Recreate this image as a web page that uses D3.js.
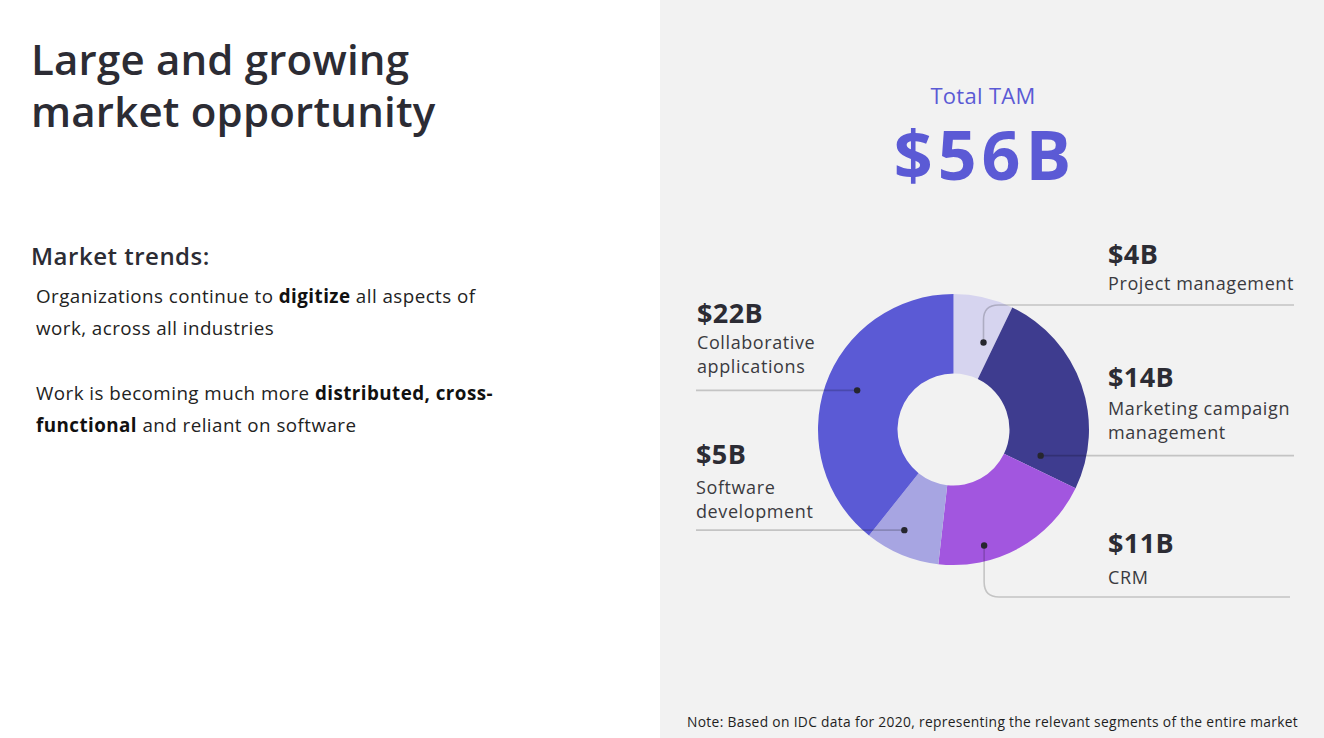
<!DOCTYPE html>
<html>
<head>
<meta charset="utf-8">
<script src="https://cdn.jsdelivr.net/npm/d3@7"></script>
<style>
  html, body { margin: 0; padding: 0; background: #ffffff; }
  svg { display: block; }
  text { font-family: "Open Sans", "Lato", sans-serif; }
</style>
</head>
<body>
<svg id="chart" width="1324" height="738"></svg>
<script>
// ---------------- data ----------------
const categories = ["Project management", "Marketing campaign management", "CRM", "Software development", "Collaborative applications"];
const values = [4, 14, 11, 5, 22];            // $B
const valueLabels = ["$4B", "$14B", "$11B", "$5B", "$22B"];
const nameLines = [["Project management"], ["Marketing campaign", "management"], ["CRM"], ["Software", "development"], ["Collaborative", "applications"]];
const colors = ["#d6d4ef", "#3e3c8f", "#a256df", "#a7a5e2", "#5b5ad5"];

const titleLines = ["Large and growing", "market opportunity"];
const subTitle = "Market trends:";
const trendLines = [
  [["Organizations continue to ", false], ["digitize", true], [" all aspects of", false]],
  [["work, across all industries", false]],
  [],
  [["Work is becoming much more ", false], ["distributed, cross-", true]],
  [["functional", true], [" and reliant on software", false]]
];
const tamTitle = "Total TAM";
const note = "Note: Based on IDC data for 2020, representing the relevant segments of the entire market";

// ---------------- layout ----------------
const W = 1324, H = 738;
const svg = d3.select("#chart");

svg.append("rect").attr("x", 660).attr("y", 0).attr("width", W - 660).attr("height", H).attr("fill", "#f2f2f2");

// Left column
const title = svg.append("text").attr("x", 31).attr("fill", "#2c2c34")
  .attr("font-size", 42).attr("font-weight", 600).attr("letter-spacing", 0.2);
titleLines.forEach((t, i) => title.append("tspan").attr("x", 31).attr("y", 75 + i * 52).text(t));

svg.append("text").attr("x", 31).attr("y", 265).attr("fill", "#2c2c34")
  .attr("font-size", 24).attr("font-weight", 600).attr("letter-spacing", 0.5).text(subTitle);

trendLines.forEach((segs, i) => {
  if (!segs.length) return;
  const t = svg.append("text").attr("x", 36).attr("y", 303 + i * 32.3)
    .attr("font-size", 18.8).attr("letter-spacing", 0.45).attr("fill", "#222");
  segs.forEach(([s, b]) => t.append("tspan")
    .attr("font-weight", b ? 700 : 400).attr("fill", b ? "#111" : "#222").text(s));
});

// TAM header
const cxTam = 983;
svg.append("text").attr("x", cxTam).attr("y", 104).attr("text-anchor", "middle")
  .attr("fill", "#5b5ad5").attr("font-size", 22).attr("letter-spacing", 0.3).text(tamTitle);
svg.append("text").attr("x", cxTam + 2).attr("y", 180).attr("text-anchor", "middle")
  .attr("fill", "#5b5ad5").attr("font-size", 68).attr("font-weight", 700).attr("letter-spacing", 5)
  .text("$" + d3.sum(values) + "B");

// Donut
const cx = 953.5, cy = 429.5, R = 135.5, r0 = 56;
const pie = d3.pie().sort(null).value(d => d);
const arcs = pie(values);
const arc = d3.arc().innerRadius(r0).outerRadius(R);
const g = svg.append("g").attr("transform", `translate(${cx},${cy})`);
g.selectAll("path").data(arcs).join("path")
  .attr("d", arc).attr("fill", (d, i) => colors[i]);

// label layout: side, x, value baseline, name baselines, dot placement, leader style
const labelLayout = [
  { side: "R", x: 1108, vy: 264, ny: [290], frac: 0.74, dr: 92, lead: "up", ly: 305, x2: 1294 },
  { side: "R", x: 1108, vy: 387, ny: [415, 439], frac: 0.90, dr: 91, lead: "h", x2: 1294 },
  { side: "R", x: 1108, vy: 553, ny: [584], frac: 0.70, dr: 120, lead: "down", ly: 597, x2: 1290 },
  { side: "L", x: 696, vy: 464, ny: [494, 518], frac: 0.61, dr: 112, lead: "h", x2: 696 },
  { side: "L", x: 697, vy: 323, ny: [349, 373], frac: 0.52, dr: 104, lead: "h", x2: 696 }
];

const lineColor = "rgba(0,0,0,0.19)";
arcs.forEach((a, i) => {
  const L = labelLayout[i];
  const ang = a.startAngle + L.frac * (a.endAngle - a.startAngle);
  const dx = cx + L.dr * Math.sin(ang), dy = cy - L.dr * Math.cos(ang);
  let path;
  const cr = 15;
  if (L.lead === "h") {
    path = `M${dx},${dy}H${L.x2}`;
  } else if (L.lead === "up") {
    path = `M${dx},${dy}V${L.ly + cr}Q${dx},${L.ly} ${dx + cr},${L.ly}H${L.x2}`;
  } else {
    path = `M${dx},${dy}V${L.ly - cr}Q${dx},${L.ly} ${dx + cr},${L.ly}H${L.x2}`;
  }
  svg.append("path").attr("d", path).attr("fill", "none")
    .attr("stroke", lineColor).attr("stroke-width", 1.6);
  svg.append("circle").attr("cx", dx).attr("cy", dy).attr("r", 3.2).attr("fill", "#26262e");

  svg.append("text").attr("x", L.x).attr("y", L.vy).attr("fill", "#2c2c34")
    .attr("font-size", 27).attr("font-weight", 700).attr("letter-spacing", 0.4).text(valueLabels[i]);
  nameLines[i].forEach((s, j) => svg.append("text").attr("x", L.x).attr("y", L.ny[j])
    .attr("fill", "#3a3a40").attr("font-size", 18).attr("letter-spacing", 0.6).text(s));
});

svg.append("text").attr("x", 687).attr("y", 727).attr("fill", "#1f1f1f")
  .attr("font-size", 13.8).attr("letter-spacing", 0.32).text(note);
</script>
</body>
</html>
